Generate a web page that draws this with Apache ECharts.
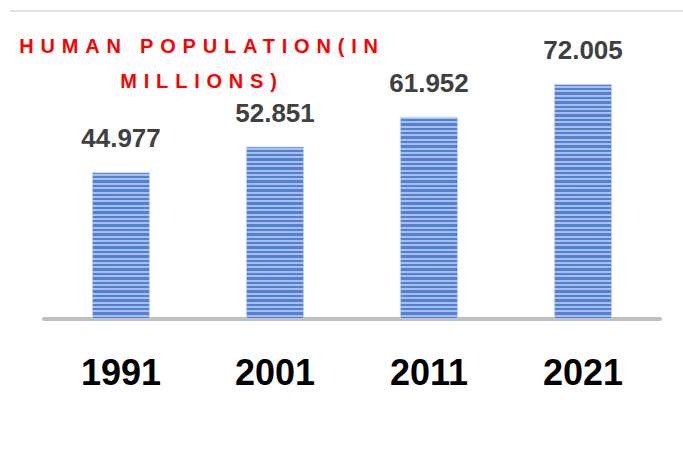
<!DOCTYPE html>
<html><head><meta charset="utf-8">
<script src="https://cdn.jsdelivr.net/npm/echarts@6/dist/echarts.min.js"></script>
<style>
html,body{margin:0;padding:0;background:#fff;}
#main{width:683px;height:455px;}
#main svg text[fill="#fe0000"]{letter-spacing:6.8px;}
</style></head>
<body><div id="main"></div>
<script>
const years = ['1991', '2001', '2011', '2021'];
const population = [44.977, 52.851, 61.952, 72.005];
const titleLines = ['HUMAN POPULATION(IN', 'MILLIONS)'];

const chart = echarts.init(document.getElementById('main'), null, {renderer: 'svg'});

// horizontal stripe fill
const stops = [];
const period = 4.4, H = 455;
const n = Math.floor(H / period);
for (let i = 0; i < n; i++) {
  const a = i * period / H, b = (i + 0.55) * period / H, c = (i + 1) * period / H;
  stops.push({offset: a, color: '#5380d0'});
  stops.push({offset: b, color: '#5380d0'});
  stops.push({offset: b, color: '#a8bfeb'});
  stops.push({offset: Math.min(c, 1), color: '#a8bfeb'});
}
const stripe = new echarts.graphic.LinearGradient(0, 0, 0, H, stops, true);

chart.setOption({
  animation: false,
  backgroundColor: '#ffffff',
  title: {
    text: titleLines.join('\n'),
    left: 197,
    textAlign: 'center',
    top: 23,
    textStyle: {
      color: '#fe0000', fontFamily: 'Liberation Sans', fontWeight: 'bold',
      fontSize: 20, lineHeight: 35
    }
  },
  graphic: [{
    type: 'line', shape: {x1: 10, y1: 11, x2: 683, y2: 11},
    style: {stroke: '#d9d9d9', lineWidth: 1.5}
  }],
  grid: {left: 44, right: 23, top: 58, bottom: 136},
  xAxis: {
    type: 'category', data: years,
    axisLine: {lineStyle: {color: '#bfbfbf', width: 4}},
    axisTick: {show: false},
    axisLabel: {
      color: '#000000', fontFamily: 'Liberation Sans',
      fontWeight: 'bold', fontSize: 36, margin: 35
    }
  },
  yAxis: {
    type: 'value', min: 0, max: 80,
    show: false, splitLine: {show: false}
  },
  series: [{
    type: 'bar', data: population, barWidth: 58,
    itemStyle: {color: stripe, borderColor: '#c6d5f2', borderWidth: 0.8},
    label: {
      show: true, position: 'top', distance: 21,
      color: '#404040', fontFamily: 'Liberation Sans',
      fontWeight: 'bold', fontSize: 26,
      formatter: p => p.value.toFixed(3)
    }
  }]
});
</script></body></html>
